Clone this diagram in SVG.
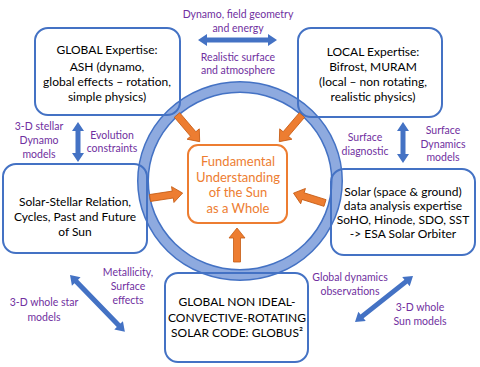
<svg xmlns="http://www.w3.org/2000/svg" width="480" height="367" viewBox="0 0 480 367">
<style>
.box{fill:none;stroke:#4472c4;stroke-width:2}
.t{font-family:Lato,"Liberation Sans",sans-serif;font-size:12px;fill:#000;text-anchor:middle}
.c{font-family:Lato,"Liberation Sans",sans-serif;font-size:13px;fill:#ed7d31;text-anchor:middle}
.l{font-family:Lato,"Liberation Sans",sans-serif;font-size:10.5px;fill:#7030a0;text-anchor:middle}
.oa{fill:#ed7d31;stroke:#c55a11;stroke-width:0.8}
.ba{fill:#4472c4}
</style>
<rect width="480" height="367" fill="#fff"/>
<g id="ring">
<ellipse cx="240" cy="181" rx="97" ry="94" fill="none" stroke="#4472c4" stroke-width="12"/>
<ellipse cx="240" cy="181" rx="97" ry="94" fill="none" stroke="#8eaadf" stroke-width="9"/>
</g>
<g id="connectors">
<path class="oa" transform="translate(177,115) rotate(49.6)" d="M0,-3.5 H25 V-8 L35,0 L25,8 V3.5 H0 Z"/>
<path class="oa" transform="translate(302,115) rotate(130.4)" d="M0,-3.5 H25 V-8 L35,0 L25,8 V3.5 H0 Z"/>
<path class="oa" transform="translate(150,198) rotate(-8.6)" d="M0,-3.5 H23 V-8 L33,0 L23,8 V3.5 H0 Z"/>
<path class="oa" transform="translate(325,203) rotate(-162.6)" d="M0,-3.5 H23 V-8 L33,0 L23,8 V3.5 H0 Z"/>
<path class="oa" transform="translate(237,262) rotate(-90)" d="M0,-3.5 H24 V-8 L34,0 L24,8 V3.5 H0 Z"/>
<path class="ba" transform="translate(198,40)" d="M0,0 L9,-6 V-2.5 H70 V-6 L79,0 L70,6 V2.5 H9 V6 Z"/>
<path class="ba" transform="translate(78,122) rotate(90)" d="M0,0 L9,-6 V-2.5 H31 V-6 L40,0 L31,6 V2.5 H9 V6 Z"/>
<path class="ba" transform="translate(403,122) rotate(90)" d="M0,0 L9,-6 V-2.5 H32 V-6 L41,0 L32,6 V2.5 H9 V6 Z"/>
<path class="ba" transform="translate(70,275) rotate(46)" d="M0,0 L9,-6 V-2.5 H70 V-6 L79,0 L70,6 V2.5 H9 V6 Z"/>
<path class="ba" transform="translate(413,276) rotate(141.6)" d="M0,0 L9,-6 V-2.5 H65 V-6 L74,0 L65,6 V2.5 H9 V6 Z"/>
</g>
<g id="center">
<rect x="188" y="145" width="99" height="78" rx="10" fill="#fff" stroke="#ed7d31" stroke-width="2"/>
<text class="c" x="238" y="166">Fundamental</text>
<text class="c" x="238" y="182">Understanding</text>
<text class="c" x="238" y="197">of the Sun</text>
<text class="c" x="238" y="213">as a Whole</text>
</g>
<g id="global">
<rect class="box" x="35" y="28" width="145" height="87" rx="13"/>
<text class="t" x="107" y="54">GLOBAL Expertise:</text>
<text class="t" x="107" y="71">ASH (dynamo,</text>
<text class="t" x="107" y="86">global effects – rotation,</text>
<text class="t" x="107" y="101">simple physics)</text>
</g>
<g id="local">
<rect class="box" x="298" y="28" width="144" height="89" rx="13"/>
<text class="t" x="373" y="56">LOCAL Expertise:</text>
<text class="t" x="373" y="71">Bifrost, MURAM</text>
<text class="t" x="373" y="86">(local – non rotating,</text>
<text class="t" x="373" y="101">realistic physics)</text>
</g>
<g id="stellar">
<rect class="box" x="3" y="164" width="144" height="89" rx="13"/>
<text class="t" x="75" y="206">Solar-Stellar Relation,</text>
<text class="t" x="75" y="221">Cycles, Past and Future</text>
<text class="t" x="75" y="236">of Sun</text>
</g>
<g id="solar">
<rect class="box" x="331" y="169" width="144" height="86" rx="13"/>
<text class="t" x="403" y="196">Solar (space &amp; ground)</text>
<text class="t" x="403" y="210">data analysis expertise</text>
<text class="t" x="403" y="224">SoHO, Hinode, SDO, SST</text>
<text class="t" x="403" y="238">-&gt; ESA Solar Orbiter</text>
</g>
<g id="globus">
<rect class="box" x="165" y="273" width="143" height="89" rx="13"/>
<text class="t" x="237" y="306">GLOBAL NON IDEAL-</text>
<text class="t" x="237" y="322">CONVECTIVE-ROTATING</text>
<text class="t" x="237" y="337">SOLAR CODE: GLOBUS²</text>
</g>
<g id="labels">
<text class="l" x="238" y="18">Dynamo, field geometry</text>
<text class="l" x="238" y="32">and energy</text>
<text class="l" x="238" y="61">Realistic surface</text>
<text class="l" x="238" y="74">and atmosphere</text>
<text class="l" x="39" y="130">3-D stellar</text>
<text class="l" x="39" y="144">Dynamo</text>
<text class="l" x="39" y="158">models</text>
<text class="l" x="112" y="139">Evolution</text>
<text class="l" x="112" y="152">constraints</text>
<text class="l" x="365" y="141">Surface</text>
<text class="l" x="365" y="155">diagnostic</text>
<text class="l" x="443" y="134">Surface</text>
<text class="l" x="443" y="148">Dynamics</text>
<text class="l" x="443" y="161">models</text>
<text class="l" x="128" y="276">Metallicity,</text>
<text class="l" x="128" y="290">Surface</text>
<text class="l" x="128" y="304">effects</text>
<text class="l" x="44" y="306">3-D whole star</text>
<text class="l" x="44" y="321">models</text>
<text class="l" x="350" y="281">Global dynamics</text>
<text class="l" x="350" y="295">observations</text>
<text class="l" x="420" y="311">3-D whole</text>
<text class="l" x="420" y="325">Sun models</text>
</g>
</svg>
